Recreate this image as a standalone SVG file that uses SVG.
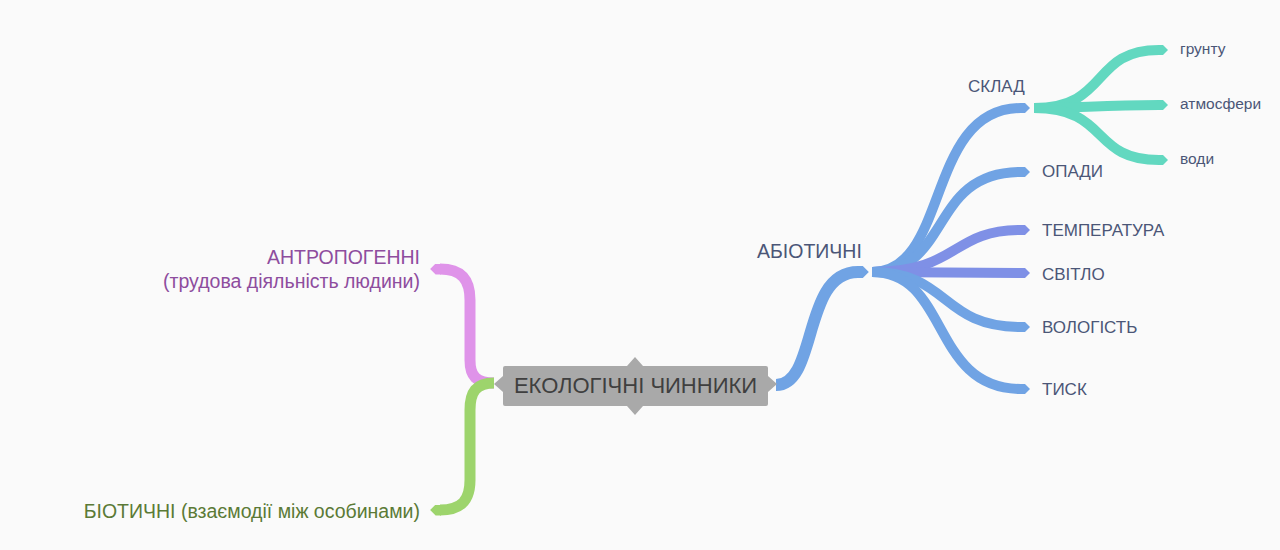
<svg xmlns="http://www.w3.org/2000/svg" width="1280" height="550" viewBox="0 0 1280 550">
<style>
text{font-family:"Liberation Sans",Arial,sans-serif}
.lbl{fill:#4b5677;font-size:17px}
.sub{fill:#4b5677;font-size:15.5px}
.br{fill:none;stroke-linecap:butt}
.blue{stroke:#70a3e4}
.purple{stroke:#7f90e6}
.teal{stroke:#62d8c0}
.pink{stroke:#df93e9}
.green{stroke:#9dd46c}
</style>
<defs>
<marker id="m-blue" viewBox="0 0 10 10" refX="1" refY="5" markerWidth="1" markerHeight="1" markerUnits="strokeWidth" orient="auto"><path d="M0,0 L5,0 L10,5 L5,10 L0,10 Z" fill="#70a3e4"/></marker>
<marker id="m-purple" viewBox="0 0 10 10" refX="1" refY="5" markerWidth="1" markerHeight="1" markerUnits="strokeWidth" orient="auto"><path d="M0,0 L5,0 L10,5 L5,10 L0,10 Z" fill="#7f90e6"/></marker>
<marker id="m-teal" viewBox="0 0 10 10" refX="1" refY="5" markerWidth="1" markerHeight="1" markerUnits="strokeWidth" orient="auto"><path d="M0,0 L5,0 L10,5 L5,10 L0,10 Z" fill="#62d8c0"/></marker>
<marker id="m-pink" viewBox="0 0 10 10" refX="1" refY="5" markerWidth="1" markerHeight="1" markerUnits="strokeWidth" orient="auto"><path d="M0,0 L5,0 L10,5 L5,10 L0,10 Z" fill="#df93e9"/></marker>
<marker id="m-green" viewBox="0 0 10 10" refX="1" refY="5" markerWidth="1" markerHeight="1" markerUnits="strokeWidth" orient="auto"><path d="M0,0 L5,0 L10,5 L5,10 L0,10 Z" fill="#9dd46c"/></marker>
</defs>
<rect width="1280" height="550" fill="#fafafa"/>
<g id="connectors">
<path class="br pink" stroke-width="11" d="M494,383 C476,383 470,376 470,360 L470,300 C470,280 462,269 440,269" marker-end="url(#m-pink)"/>
<path class="br green" stroke-width="11" d="M494,383 C476,383 470,392 470,410 L470,480 C470,500 462,510 440,510" marker-end="url(#m-green)"/>
<path class="br blue" stroke-width="12" d="M776,385 C818,385 802,272 858,272" marker-end="url(#m-blue)"/>
<path class="br blue" stroke-width="10" d="M872,272 C950,272 925,108 1021,108" marker-end="url(#m-blue)"/>
<path class="br blue" stroke-width="10" d="M872,272 C952,272 928,172 1021,172" marker-end="url(#m-blue)"/>
<path class="br purple" stroke-width="10" d="M872,272 C960,272 950,230 1021,230" marker-end="url(#m-purple)"/>
<path class="br purple" stroke-width="10" d="M872,272 L1021,273" marker-end="url(#m-purple)"/>
<path class="br blue" stroke-width="10" d="M872,272 C950,272 940,327 1021,327" marker-end="url(#m-blue)"/>
<path class="br blue" stroke-width="10" d="M872,272 C950,272 930,389 1021,389" marker-end="url(#m-blue)"/>
<path class="br teal" stroke-width="10" d="M1034,108 C1110,108 1090,50 1159,50" marker-end="url(#m-teal)"/>
<path class="br teal" stroke-width="10" d="M1034,108 C1080,108 1100,105 1159,105" marker-end="url(#m-teal)"/>
<path class="br teal" stroke-width="10" d="M1034,108 C1110,108 1090,160 1159,160" marker-end="url(#m-teal)"/>
</g>
<g id="root">
<path d="M505,366 L627,366 L635,357 L643,366 L766,366 Q768,366 768,368 L768,376 L777,384 L768,392 L768,404 Q768,406 766,406 L643,406 L635,415 L627,406 L505,406 Q503,406 503,404 L503,392 L494,384 L503,376 L503,368 Q503,366 505,366 Z" fill="#a9a9a9"/>
<text x="635.500" y="393" text-anchor="middle" font-size="22" fill="#3f3f3f">ЕКОЛОГІЧНІ ЧИННИКИ</text>
</g>
<g id="antropogenni">
<text x="420" y="264" text-anchor="end" font-size="19.5" fill="#8e4d9e">АНТРОПОГЕННІ</text>
<text x="420" y="288" text-anchor="end" font-size="19.5" fill="#8e4d9e">(трудова діяльність людини)</text>
</g>
<g id="biotychni">
<text x="420" y="518" text-anchor="end" font-size="19.5" fill="#5b7a36">БІОТИЧНІ (взаємодії між особинами)</text>
</g>
<g id="abiotychni"><text x="757" y="258" class="lbl" style="font-size:19.5px">АБІОТИЧНІ</text></g>
<g id="sklad"><text x="968" y="92" class="lbl">СКЛАД</text></g>
<g id="opady"><text x="1042" y="177" class="lbl">ОПАДИ</text></g>
<g id="temperatura"><text x="1042" y="236" class="lbl">ТЕМПЕРАТУРА</text></g>
<g id="svitlo"><text x="1042" y="280" class="lbl">СВІТЛО</text></g>
<g id="vologist"><text x="1042" y="333" class="lbl">ВОЛОГІСТЬ</text></g>
<g id="tysk"><text x="1042" y="395" class="lbl">ТИСК</text></g>
<g id="gruntu"><text x="1180" y="54" class="sub">грунту</text></g>
<g id="atmosfery"><text x="1180" y="109" class="sub">атмосфери</text></g>
<g id="vody"><text x="1180" y="164" class="sub">води</text></g>
</svg>
